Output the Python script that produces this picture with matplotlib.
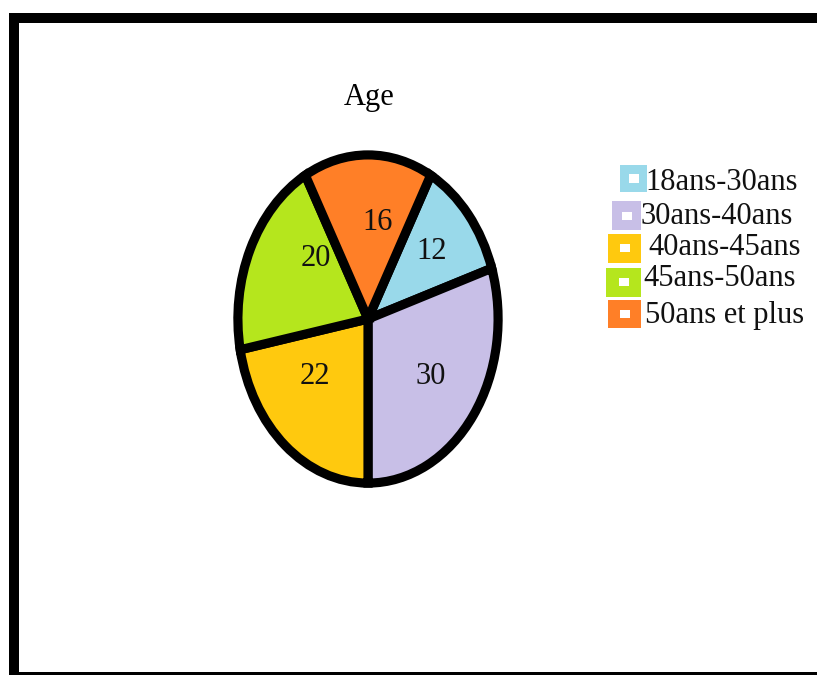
import matplotlib.pyplot as plt
from matplotlib.patches import Rectangle

plt.rcParams['font.family'] = ['Liberation Serif', 'DejaVu Serif']

categories = ['18ans-30ans', '30ans-40ans', '40ans-45ans', '45ans-50ans', '50ans et plus']
values = [12, 30, 22, 20, 16]
colors = ['#99D9EA', '#C8BFE7', '#FFC90E', '#B5E61D', '#FF7F27']

W, H = 817, 675
fig = plt.figure(figsize=(W / 100, H / 100), dpi=100)


def strip(x0, y0, x1, y1, col='black'):
    # filled rectangle given in pixel coords measured from the top-left
    fig.patches.append(Rectangle((x0 / W, 1 - y1 / H), (x1 - x0) / W, (y1 - y0) / H,
                                 transform=fig.transFigure, facecolor=col,
                                 edgecolor='none'))


# thick frame: left, top, and the bit of the bottom edge that is left
strip(9, 13, 19, H)
strip(9, 13, W, 23)
strip(9, 672, W, H)

# pie stretched into an ellipse (axes box is taller than wide)
cx, cy, rx, ry = 368, 319, 134, 169
ax = fig.add_axes([(cx - rx) / W, 1 - (cy + ry) / H, 2 * rx / W, 2 * ry / H])
wedges, texts = ax.pie(values, colors=colors, startangle=61.2, counterclock=False,
                       labels=[str(v) for v in values], labeldistance=0.6,
                       wedgeprops=dict(edgecolor='black', linewidth=6.6),
                       textprops=dict(fontsize=22, color='#111111'))
ax.set_aspect('auto')
ax.set_xlim(-1.03, 1.03)
ax.set_ylim(-1.03, 1.03)

# nudge the value labels
label_pos = [(0.49, 0.41), (0.48, -0.35), (-0.41, -0.35), (-0.40, 0.37), (0.07, 0.59)]
for t, (x, y) in zip(texts, label_pos):
    t.set_position((x, y))
    t.set_ha('center')
    t.set_va('center')

fig.text(369 / W, 1 - 97 / H, 'Age', ha='center', va='center', fontsize=22)

# legend: coloured boxes with a small white square inside
leg_boxes = [(620, 165, 27, 27), (612, 201, 29, 29), (608, 234, 33, 29),
             (606, 268, 35, 29), (608, 300, 33, 28)]
leg_text = [(645, 182), (640, 217), (648, 247), (643, 278), (645, 315)]
for name, col, (bx, by, bw, bh), (tx, ty) in zip(categories, colors, leg_boxes, leg_text):
    strip(bx, by, bx + bw, by + bh, col)
    strip(bx + bw / 2 - 5, by + bh / 2 - 4, bx + bw / 2 + 5, by + bh / 2 + 4, 'white')
    fig.text(tx / W, 1 - ty / H, name, ha='left', va='center', fontsize=22,
             color='#111111')

fig.savefig('out.png', dpi=100)
